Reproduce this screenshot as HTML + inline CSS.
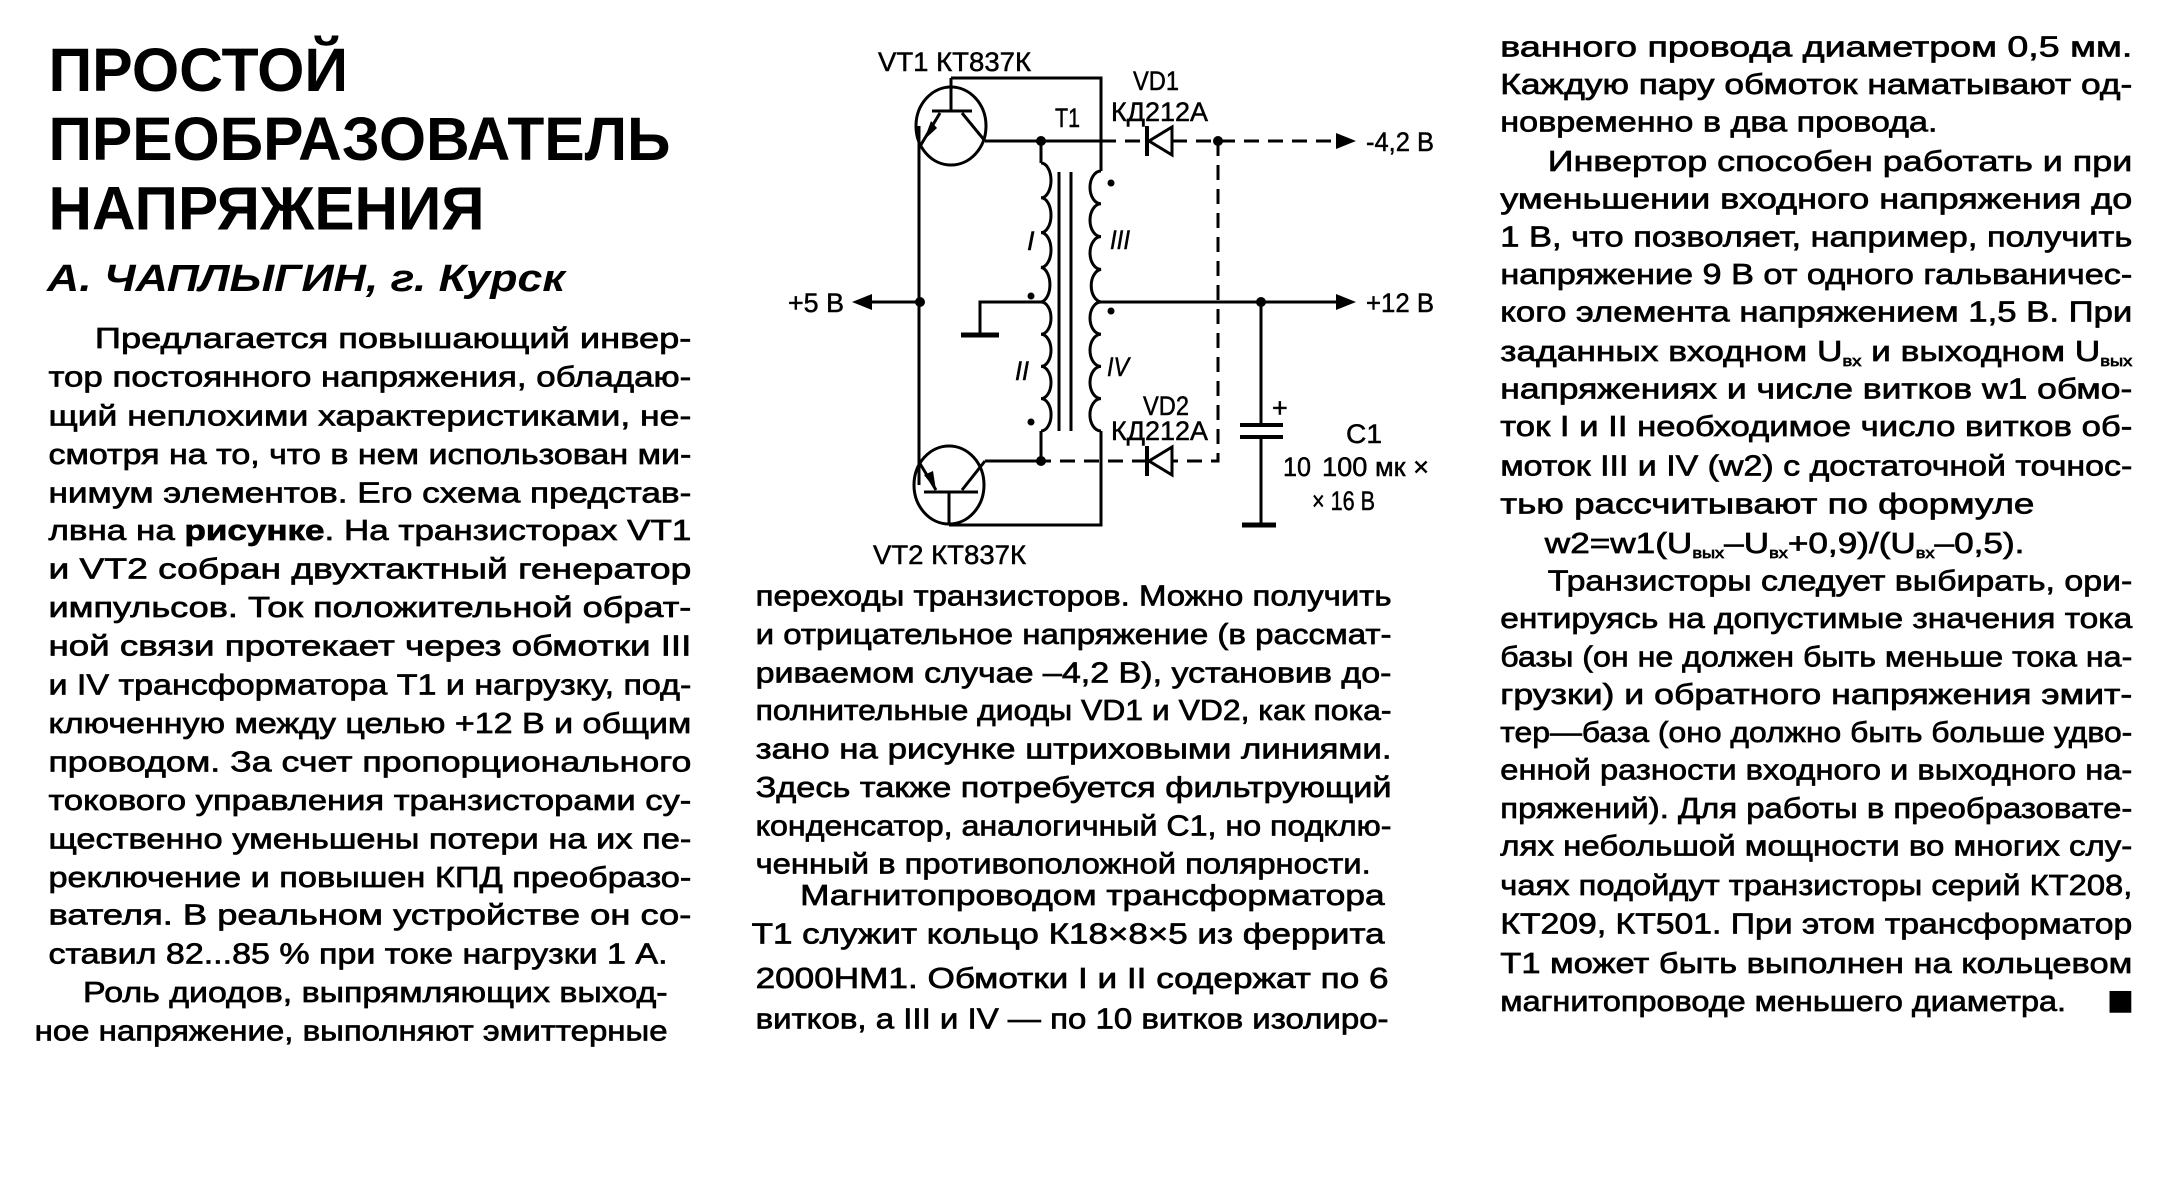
<!DOCTYPE html>
<html><head><meta charset="utf-8">
<style>
html,body{margin:0;padding:0;background:#fff;}
svg{display:block;}
.t{font-family:"Liberation Sans","Noto Sans CJK SC",sans-serif;font-size:29px;fill:#000;stroke:#000;stroke-width:0.7px;}
.s{font-family:"Liberation Sans",sans-serif;font-size:27px;fill:#000;stroke:#000;stroke-width:0.5px;}
.w{stroke:#000;stroke-width:3;fill:none;}
.d{stroke:#000;stroke-width:3;fill:none;stroke-dasharray:15 9;}
</style></head>
<body>
<svg width="2181" height="1181" viewBox="0 0 2181 1181" xmlns="http://www.w3.org/2000/svg">
<rect width="2181" height="1181" fill="#fff"/>
<!-- Title -->
<g font-family="Liberation Sans, sans-serif" font-weight="bold" font-size="62" fill="#000" transform="scale(0.989)">
<text x="49" y="92" textLength="303" lengthAdjust="spacingAndGlyphs">ПРОСТОЙ</text>
<text x="49" y="162" textLength="629" lengthAdjust="spacingAndGlyphs">ПРЕОБРАЗОВАТЕЛЬ</text>
<text x="49" y="232" textLength="441" lengthAdjust="spacingAndGlyphs">НАПРЯЖЕНИЯ</text>
</g>
<text x="47" y="291" font-family="Liberation Sans, sans-serif" font-weight="bold" font-style="italic" font-size="38" textLength="518" lengthAdjust="spacingAndGlyphs">А.  ЧАПЛЫГИН, г. Курск</text>

<g transform="scale(0.989)">
<!-- Column 1 -->
<g class="t">
<text x="96" y="352" textLength="603" lengthAdjust="spacingAndGlyphs">Предлагается повышающий инвер-</text>
<text x="49" y="391" textLength="650" lengthAdjust="spacingAndGlyphs">тор постоянного напряжения, обладаю-</text>
<text x="49" y="430" textLength="650" lengthAdjust="spacingAndGlyphs">щий неплохими характеристиками, не-</text>
<text x="49" y="469" textLength="650" lengthAdjust="spacingAndGlyphs">смотря на то, что в нем использован ми-</text>
<text x="49" y="508" textLength="650" lengthAdjust="spacingAndGlyphs">нимум элементов. Его схема представ-</text>
<text x="49" y="546" textLength="650" lengthAdjust="spacingAndGlyphs">лвна на <tspan font-weight="bold">рисунке</tspan>. На транзисторах VT1</text>
<text x="49" y="585" textLength="650" lengthAdjust="spacingAndGlyphs">и VT2 собран двухтактный генератор</text>
<text x="49" y="624" textLength="650" lengthAdjust="spacingAndGlyphs">импульсов. Ток положительной обрат-</text>
<text x="49" y="663" textLength="650" lengthAdjust="spacingAndGlyphs">ной связи протекает через обмотки III</text>
<text x="49" y="702" textLength="650" lengthAdjust="spacingAndGlyphs">и IV трансформатора Т1 и нагрузку, под-</text>
<text x="49" y="741" textLength="650" lengthAdjust="spacingAndGlyphs">ключенную между целью +12 В и общим</text>
<text x="49" y="780" textLength="650" lengthAdjust="spacingAndGlyphs">проводом. За счет пропорционального</text>
<text x="49" y="819" textLength="650" lengthAdjust="spacingAndGlyphs">токового управления транзисторами су-</text>
<text x="49" y="858" textLength="650" lengthAdjust="spacingAndGlyphs">щественно уменьшены потери на их пе-</text>
<text x="49" y="897" textLength="650" lengthAdjust="spacingAndGlyphs">реключение и повышен КПД преобразо-</text>
<text x="49" y="935" textLength="650" lengthAdjust="spacingAndGlyphs">вателя. В реальном устройстве он со-</text>
<text x="49" y="974" textLength="626" lengthAdjust="spacingAndGlyphs">ставил 82...85 % при токе нагрузки 1 А.</text>
<text x="84" y="1013" textLength="591" lengthAdjust="spacingAndGlyphs">Роль диодов, выпрямляющих выход-</text>
<text x="35" y="1052" textLength="640" lengthAdjust="spacingAndGlyphs">ное напряжение, выполняют эмиттерные</text>
</g>

<!-- Column 2 -->
<g class="t">
<text x="764" y="612" textLength="643" lengthAdjust="spacingAndGlyphs">переходы транзисторов. Можно получить</text>
<text x="764" y="651" textLength="643" lengthAdjust="spacingAndGlyphs">и отрицательное напряжение (в рассмат-</text>
<text x="764" y="690" textLength="643" lengthAdjust="spacingAndGlyphs">риваемом случае –4,2 В), установив до-</text>
<text x="764" y="728" textLength="643" lengthAdjust="spacingAndGlyphs">полнительные диоды VD1 и VD2, как пока-</text>
<text x="764" y="767" textLength="643" lengthAdjust="spacingAndGlyphs">зано на рисунке штриховыми линиями.</text>
<text x="764" y="806" textLength="643" lengthAdjust="spacingAndGlyphs">Здесь также потребуется фильтрующий</text>
<text x="764" y="845" textLength="643" lengthAdjust="spacingAndGlyphs">конденсатор, аналогичный С1, но подклю-</text>
<text x="764" y="883" textLength="622" lengthAdjust="spacingAndGlyphs">ченный в противоположной полярности.</text>
<text x="809" y="915" textLength="591" lengthAdjust="spacingAndGlyphs">Магнитопроводом трансформатора</text>
<text x="760" y="954" textLength="640" lengthAdjust="spacingAndGlyphs">Т1 служит кольцо К18×8×5 из феррита</text>
<text x="764" y="999" textLength="640" lengthAdjust="spacingAndGlyphs">2000НМ1. Обмотки I и II содержат по 6</text>
<text x="764" y="1040" textLength="640" lengthAdjust="spacingAndGlyphs">витков, а III и IV — по 10 витков изолиро-</text>
</g>

<!-- Column 3 -->
<g class="t">
<text x="1517" y="57" textLength="639" lengthAdjust="spacingAndGlyphs">ванного провода диаметром 0,5 мм.</text>
<text x="1517" y="95" textLength="639" lengthAdjust="spacingAndGlyphs">Каждую пару обмоток наматывают од-</text>
<text x="1517" y="133" textLength="442" lengthAdjust="spacingAndGlyphs">новременно в два провода.</text>
<text x="1565" y="173" textLength="591" lengthAdjust="spacingAndGlyphs">Инвертор способен работать и при</text>
<text x="1517" y="211" textLength="639" lengthAdjust="spacingAndGlyphs">уменьшении входного напряжения до</text>
<text x="1517" y="249" textLength="639" lengthAdjust="spacingAndGlyphs">1 В, что позволяет, например, получить</text>
<text x="1517" y="287" textLength="639" lengthAdjust="spacingAndGlyphs">напряжение 9 В от одного гальваничес-</text>
<text x="1517" y="325" textLength="639" lengthAdjust="spacingAndGlyphs">кого элемента напряжением 1,5 В. При</text>
<text x="1517" y="365" textLength="639" lengthAdjust="spacingAndGlyphs">заданных входном U<tspan font-size="15" dy="5">вх</tspan><tspan dy="-5"> и выходном U</tspan><tspan font-size="15" dy="5">вых</tspan></text>
<text x="1517" y="403" textLength="639" lengthAdjust="spacingAndGlyphs">напряжениях и числе витков w1 обмо-</text>
<text x="1517" y="441" textLength="639" lengthAdjust="spacingAndGlyphs">ток I и II необходимое число витков об-</text>
<text x="1517" y="481" textLength="639" lengthAdjust="spacingAndGlyphs">моток III и IV (w2) с достаточной точнос-</text>
<text x="1517" y="519" textLength="540" lengthAdjust="spacingAndGlyphs">тью рассчитывают по формуле</text>
<text x="1562" y="559" textLength="485" lengthAdjust="spacingAndGlyphs">w2=w1(U<tspan font-size="15" dy="5">вых</tspan><tspan dy="-5">–U</tspan><tspan font-size="15" dy="5">вх</tspan><tspan dy="-5">+0,9)/(U</tspan><tspan font-size="15" dy="5">вх</tspan><tspan dy="-5">–0,5).</tspan></text>
<text x="1565" y="597" textLength="591" lengthAdjust="spacingAndGlyphs">Транзисторы следует выбирать, ори-</text>
<text x="1517" y="635" textLength="639" lengthAdjust="spacingAndGlyphs">ентируясь на допустимые значения тока</text>
<text x="1517" y="674" textLength="639" lengthAdjust="spacingAndGlyphs">базы (он не должен быть меньше тока на-</text>
<text x="1517" y="712" textLength="639" lengthAdjust="spacingAndGlyphs">грузки) и обратного напряжения эмит-</text>
<text x="1517" y="750" textLength="639" lengthAdjust="spacingAndGlyphs">тер—база (оно должно быть больше удво-</text>
<text x="1517" y="788" textLength="639" lengthAdjust="spacingAndGlyphs">енной разности входного и выходного на-</text>
<text x="1517" y="827" textLength="639" lengthAdjust="spacingAndGlyphs">пряжений). Для работы в преобразовате-</text>
<text x="1517" y="865" textLength="639" lengthAdjust="spacingAndGlyphs">лях небольшой мощности во многих слу-</text>
<text x="1517" y="905" textLength="639" lengthAdjust="spacingAndGlyphs">чаях подойдут транзисторы серий КТ208,</text>
<text x="1517" y="944" textLength="639" lengthAdjust="spacingAndGlyphs">КТ209, КТ501. При этом трансформатор</text>
<text x="1517" y="984" textLength="639" lengthAdjust="spacingAndGlyphs">Т1 может быть выполнен на кольцевом</text>
<text x="1517" y="1022" textLength="572" lengthAdjust="spacingAndGlyphs">магнитопроводе меньшего диаметра.</text>
</g>
<rect x="2133" y="1002" width="22" height="22" fill="#000"/>
</g>

<!-- Schematic -->
<ellipse class="w" cx="951" cy="126" rx="35" ry="39"/>
<path class="w" d="M951 78 V111 M932 111 H972 M940 113 L919 148 M962 113 L985 141"/>
<polygon points="924,140 931,121 937,128" fill="#000"/>
<ellipse class="w" cx="949" cy="485" rx="35" ry="39"/>
<path class="w" d="M949 492 V525 M924 492 H978 M936 490 L919 462 M962 490 L985 461"/>
<polygon points="936,490 924,475 933,471" fill="#000"/>
<path class="w" d="M919 126 V485"/>
<path class="w" d="M951 78 H1101 V171"/>
<path class="w" d="M985 141 H1101"/>
<path class="w" d="M985 461 H1041"/>
<path class="w" d="M949 525 H1101 V431"/>
<path class="w" d="M1041 141 V163"/>
<path class="w" d="M1041 431 V461"/>
<path class="w" d="M919 302 H868"/>
<polygon points="852,302 872,294 872,310" fill="#000"/>
<circle cx="920" cy="302" r="5" fill="#000"/>
<circle cx="1041" cy="141" r="5" fill="#000"/>
<circle cx="1041" cy="461" r="5" fill="#000"/>
<path class="w" d="M1041 163 a10 17.4 0 0 1 0 34.8 a10 17.4 0 0 1 0 34.8 a10 17.4 0 0 1 0 34.8 a10 17.4 0 0 1 0 34.6 a10 16.1 0 0 1 0 32.2 a10 16.1 0 0 1 0 32.2 a10 16.1 0 0 1 0 32.2 a10 16.1 0 0 1 0 32.4"/>
<path class="w" d="M1101 171 a11 16.4 0 0 0 0 32.8 a11 16.4 0 0 0 0 32.8 a11 16.4 0 0 0 0 32.8 a11 16.4 0 0 0 0 32.6 a11 16.1 0 0 0 0 32.2 a11 16.1 0 0 0 0 32.2 a11 16.1 0 0 0 0 32.2 a11 16.1 0 0 0 0 32.4"/>
<path class="w" d="M1059 172 V431 M1071 172 V431"/>
<circle cx="1111" cy="183" r="3.5" fill="#000"/>
<circle cx="1031" cy="296" r="3.5" fill="#000"/>
<circle cx="1111" cy="311" r="3.5" fill="#000"/>
<circle cx="1031" cy="422" r="3.5" fill="#000"/>
<path class="w" d="M1041 302 H980 V335"/>
<path d="M961 335 H999" stroke="#000" stroke-width="5"/>
<path class="w" d="M1101 302 H1338"/>
<polygon points="1356,302 1336,294 1336,310" fill="#000"/>
<circle cx="1261" cy="302" r="5" fill="#000"/>
<path class="w" d="M1261 302 V425 M1261 437 V525"/>
<path d="M1240 425 H1283 M1240 437 H1283" stroke="#000" stroke-width="4"/>
<path d="M1242 525 H1276" stroke="#000" stroke-width="5"/>
<text class="s" x="1272" y="417" font-size="20">+</text>
<path class="d" d="M1101 141 H1147 M1172 141 H1338"/>
<polygon points="1356,141 1336,133 1336,149" fill="#000"/>
<circle cx="1218" cy="141" r="5" fill="#000"/>
<path class="d" d="M1218 141 V461 H1172 M1147 461 H1041"/>
<path d="M1147 126 V156" stroke="#000" stroke-width="4"/>
<polygon points="1149,141 1172,127 1172,155" fill="none" stroke="#000" stroke-width="3"/>
<path d="M1147 446 V476" stroke="#000" stroke-width="4"/>
<polygon points="1149,461 1172,447 1172,475" fill="none" stroke="#000" stroke-width="3"/>
<g class="s">
<text x="878" y="71" textLength="153" lengthAdjust="spacingAndGlyphs">VT1 КТ837К</text>
<text x="873" y="564" textLength="153" lengthAdjust="spacingAndGlyphs">VT2 КТ837К</text>
<text x="1133" y="90" textLength="46" lengthAdjust="spacingAndGlyphs">VD1</text>
<text x="1111" y="121" textLength="97" lengthAdjust="spacingAndGlyphs">КД212А</text>
<text x="1055" y="127" textLength="25" lengthAdjust="spacingAndGlyphs">Т1</text>
<text x="1366" y="151" textLength="68" lengthAdjust="spacingAndGlyphs">-4,2 В</text>
<text x="1366" y="312" textLength="68" lengthAdjust="spacingAndGlyphs">+12 В</text>
<text x="788" y="312" textLength="56" lengthAdjust="spacingAndGlyphs">+5 В</text>
<text x="1143" y="415" textLength="46" lengthAdjust="spacingAndGlyphs">VD2</text>
<text x="1111" y="440" textLength="97" lengthAdjust="spacingAndGlyphs">КД212А</text>
<text x="1346" y="443" textLength="36" lengthAdjust="spacingAndGlyphs">С1</text>
<text x="1283" y="476" textLength="28" lengthAdjust="spacingAndGlyphs">10</text>
<text x="1322" y="476" textLength="107" lengthAdjust="spacingAndGlyphs">100 мк ×</text>
<text x="1312" y="510" textLength="63" lengthAdjust="spacingAndGlyphs">× 16 В</text>
<text x="1027" y="250" font-style="italic">I</text>
<text x="1110" y="249" font-style="italic" textLength="20" lengthAdjust="spacingAndGlyphs">III</text>
<text x="1015" y="380" font-style="italic" textLength="14" lengthAdjust="spacingAndGlyphs">II</text>
<text x="1107" y="376" font-style="italic" textLength="22" lengthAdjust="spacingAndGlyphs">IV</text>
</g>
</svg>
</body></html>
